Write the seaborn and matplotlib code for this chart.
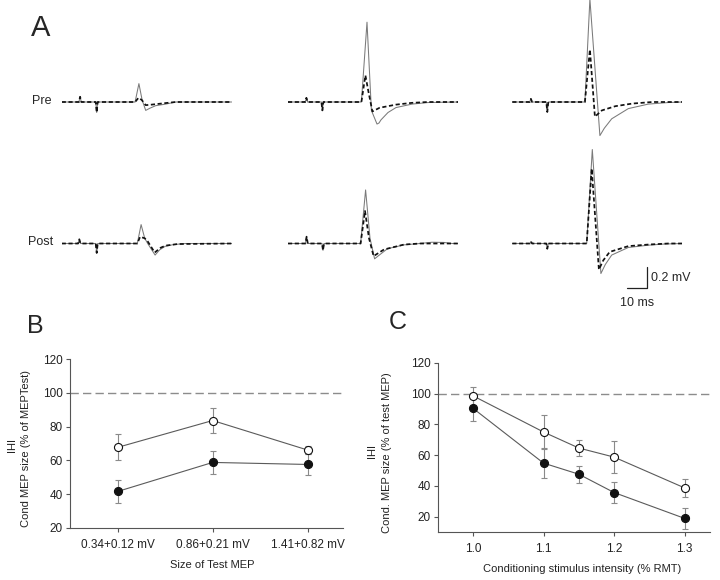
import numpy as np
import pandas as pd
import matplotlib
matplotlib.use('Agg')
import matplotlib.pyplot as plt
import seaborn as sns

sns.set_style('ticks')
plt.rcParams['font.family'] = ['Liberation Sans', 'DejaVu Sans']

# ---- Panel A: MEP traces, (time in ms, amplitude in mV)
# solid grey = test MEP, dashed black = conditioned MEP
pre_small_test = [(0, 0), (8.6, 0), (9.2, 0.05), (9.8, 0), (17.0, 0), (17.5, -0.1), (18.0, 0),
                  (36.7, 0), (38.6, 0.175), (40.2, 0.02), (42.0, -0.08), (44.0, -0.06),
                  (47.0, -0.035), (52.0, -0.02), (57.0, 0), (85, 0)]
pre_small_cond = [(0, 0), (8.6, 0), (9.2, 0.05), (9.8, 0), (17.0, 0), (17.5, -0.1), (18.0, 0),
                  (36.7, 0), (38.4, 0.04), (40.0, 0.02), (42.0, -0.03), (45.0, -0.025),
                  (52.0, -0.01), (57.0, 0), (85, 0)]
pre_mid_test = [(0, 0), (8.6, 0), (9.2, 0.04), (9.8, 0), (16.7, 0), (17.2, -0.08), (17.7, 0),
                (36.7, 0), (39.5, 0.76), (41.7, -0.08), (44.5, -0.21), (45.5, -0.2),
                (46.5, -0.17), (50.0, -0.1), (54.0, -0.053), (62.0, -0.02), (70.0, -0.005), (85, 0)]
pre_mid_cond = [(0, 0), (8.6, 0), (9.2, 0.04), (9.8, 0), (16.7, 0), (17.2, -0.08), (17.7, 0),
                (36.7, 0), (38.7, 0.254), (40.2, 0.1), (42.2, -0.09), (45.8, -0.055),
                (54.0, -0.025), (62.0, -0.008), (70.0, 0), (85, 0)]
pre_large_test = [(0, 0), (8.7, 0), (9.3, 0.03), (9.9, 0), (17.0, 0), (17.5, -0.095), (18.0, 0),
                  (36.3, 0), (38.8, 0.98), (43.8, -0.32), (46.0, -0.25), (49.7, -0.16),
                  (58.0, -0.063), (68.0, -0.02), (78.0, -0.005), (85, 0)]
pre_large_cond = [(0, 0), (8.7, 0), (9.3, 0.03), (9.9, 0), (17.0, 0), (17.5, -0.095), (18.0, 0),
                  (36.3, 0), (38.8, 0.5), (41.3, -0.14), (44.8, -0.08), (51.5, -0.04),
                  (60.0, -0.015), (70.0, 0), (85, 0)]
post_small_test = [(0, 0), (8.2, 0), (8.8, 0.04), (9.4, 0), (17.0, 0), (17.5, -0.09), (18.0, 0),
                   (37.8, 0), (39.7, 0.18), (41.5, 0.05), (43.0, 0.0), (46.7, -0.11), (49.0, -0.06),
                   (51.7, -0.027), (56.0, -0.01), (62.0, 0), (85, 0)]
post_small_cond = [(0, 0), (8.2, 0), (8.8, 0.04), (9.4, 0), (17.0, 0), (17.5, -0.09), (18.0, 0),
                   (37.8, 0), (39.2, 0.064), (41.5, 0.05), (43.0, 0.02), (46.5, -0.086),
                   (49.5, -0.04), (52.0, -0.02), (58.0, -0.005), (85, 0)]
post_mid_test = [(0, 0), (8.7, 0), (9.3, 0.065), (9.9, 0), (17.0, 0), (17.5, -0.065), (18.0, 0),
                 (36.3, 0), (38.8, 0.51), (41.0, 0.05), (43.3, -0.146), (45.0, -0.12),
                 (49.7, -0.05), (58.0, -0.013), (66.0, 0), (72.0, 0.012), (78.0, 0.01),
                 (82.0, 0), (85, 0)]
post_mid_cond = [(0, 0), (8.7, 0), (9.3, 0.065), (9.9, 0), (17.0, 0), (17.5, -0.065), (18.0, 0),
                 (36.3, 0), (38.5, 0.31), (40.5, 0.05), (42.8, -0.12), (48.0, -0.057),
                 (58.0, -0.01), (66.0, 0), (85, 0)]
post_large_test = [(0, 0), (8.7, 0), (9.3, 0.02), (9.9, 0), (17.0, 0), (17.5, -0.05), (18.0, 0),
                   (37.2, 0), (40.0, 0.895), (44.3, -0.286), (46.5, -0.2), (49.7, -0.11),
                   (58.0, -0.038), (68.0, -0.016), (76.0, -0.005), (85, 0)]
post_large_cond = [(0, 0), (8.7, 0), (9.3, 0.02), (9.9, 0), (17.0, 0), (17.5, -0.05), (18.0, 0),
                   (37.2, 0), (39.7, 0.714), (43.3, -0.248), (45.5, -0.16), (48.7, -0.08),
                   (58.0, -0.025), (68.0, -0.01), (78.0, 0), (85, 0)]

# ---- Panel B: IHI vs size of test MEP
size_labels = ['0.34+0.12 mV', '0.86+0.21 mV', '1.41+0.82 mV']
b_open = [67.7, 83.6, 66.1]
b_open_err = [7.7, 7.4, 2.6]
b_filled = [41.6, 58.8, 57.6]
b_filled_err = [6.6, 6.6, 6.0]

# ---- Panel C: IHI vs conditioning stimulus intensity
intensity = [1.0, 1.1, 1.15, 1.2, 1.3]
intensity_ticks = [1.0, 1.1, 1.2, 1.3]
c_open = [98.5, 75.0, 64.6, 58.7, 38.7]
c_open_err = [5.8, 10.9, 5.5, 10.2, 6.0]
c_filled = [90.4, 54.8, 47.6, 35.7, 18.9]
c_filled_err = [8.2, 9.5, 5.5, 7.0, 7.0]

W, H = 720, 580
fig = plt.figure(figsize=(W / 100, H / 100), dpi=100)


def px_axes(left, top, width, height):
    return fig.add_axes([left / W, 1 - (top + height) / H, width / W, height / H])


# traces: 2 px per ms, 105 px per mV
ylo, yhi = -0.45, 0.98
trace_w = 85 * 2
trace_h = (yhi - ylo) * 105
rows = [(102, [(pre_small_test, pre_small_cond), (pre_mid_test, pre_mid_cond),
               (pre_large_test, pre_large_cond)]),
        (243.5, [(post_small_test, post_small_cond), (post_mid_test, post_mid_cond),
                 (post_large_test, post_large_cond)])]
col_x = [61.7, 288, 512.3]

last_ax = None
for base_y, pairs in rows:
    for cx, (test, cond) in zip(col_x, pairs):
        ax = px_axes(cx, base_y - yhi * 105, trace_w, trace_h)
        dt = pd.DataFrame(test, columns=['t', 'mv'])
        dc = pd.DataFrame(cond, columns=['t', 'mv'])
        sns.lineplot(data=dt, x='t', y='mv', ax=ax, color='#7a7a7a', lw=0.75,
                     estimator=None, sort=False)
        sns.lineplot(data=dc, x='t', y='mv', ax=ax, color='#111111', lw=1.25,
                     linestyle=(0, (2.4, 1.5)), estimator=None, sort=False)
        ax.set_xlim(0, 85)
        ax.set_ylim(ylo, yhi)
        ax.axis('off')
        last_ax = ax

# scale bar (10 ms, 0.2 mV)
sb_t, sb_v = 67.2, -0.427
last_ax.plot([sb_t - 10, sb_t, sb_t], [sb_v, sb_v, sb_v + 0.2], color='#222222', lw=0.9,
             clip_on=False)
last_ax.text(sb_t + 2, sb_v + 0.1, '0.2 mV', fontsize=9, va='center', ha='left', clip_on=False)
last_ax.text(sb_t - 5, sb_v - 0.14, '10 ms', fontsize=9, va='center', ha='center', clip_on=False)

fig.text(52 / W, 1 - 101 / H, 'Pre', fontsize=9, ha='right', va='center')
fig.text(53 / W, 1 - 242 / H, 'Post', fontsize=9, ha='right', va='center')

fig.text(31 / W, 1 - 28 / H, 'A', fontsize=21, ha='left', va='center')
fig.text(27 / W, 1 - 326 / H, 'B', fontsize=18, ha='left', va='center')
fig.text(389 / W, 1 - 322 / H, 'C', fontsize=18, ha='left', va='center')


def draw_series(ax, x, y, err, face):
    ax.errorbar(x, y, yerr=err, fmt='none', ecolor='#8a8a8a', elinewidth=0.8,
                capsize=2, capthick=0.8, zorder=2)
    sns.lineplot(x=x, y=y, ax=ax, color='#5a5a5a', lw=0.8, marker='o', markersize=5.8,
                 markerfacecolor=face, markeredgecolor='#111111', markeredgewidth=0.8,
                 estimator=None, sort=False, zorder=3)


def style_axes(ax, xpad):
    sns.despine(ax=ax)
    for s in ['left', 'bottom']:
        ax.spines[s].set_color('#555555')
        ax.spines[s].set_linewidth(0.8)
    ax.tick_params(axis='both', direction='out', length=3, width=0.8, color='#555555',
                   labelsize=8.5, labelcolor='#222222')
    ax.tick_params(axis='y', pad=2)
    ax.tick_params(axis='x', pad=xpad)
    ax.axhline(100, color='#8c8c8c', lw=1.0, dashes=(6, 3), zorder=1)


# ---- Panel B
axb = px_axes(70, 359, 273, 169)
pos = np.arange(len(size_labels))
draw_series(axb, pos, b_open, b_open_err, 'white')
draw_series(axb, pos, b_filled, b_filled_err, '#111111')
axb.set_xlim(-0.5, 2.37)
axb.set_ylim(20, 120)
axb.set_yticks([20, 40, 60, 80, 100, 120])
axb.set_xticks(pos)
axb.set_xticklabels(size_labels)
style_axes(axb, 5)
axb.set_xlabel('Size of Test MEP', fontsize=8, color='#222222')
axb.xaxis.set_label_coords(0.52, -(560 - 528) / 169)
axb.set_ylabel('Cond MEP size (% of MEPTest)', fontsize=8, color='#222222')
axb.yaxis.set_label_coords(-(70 - 31.5) / 273, 0.47)
fig.text(11.7 / W, 1 - 445 / H, 'IHI', fontsize=8, rotation=90, ha='center', va='center',
         color='#222222')

# ---- Panel C
axc = px_axes(437.7, 362.7, 272.3, 169.4)
draw_series(axc, intensity, c_open, c_open_err, 'white')
draw_series(axc, intensity, c_filled, c_filled_err, '#111111')
axc.set_xlim(0.95, 1.336)
axc.set_ylim(10, 120)
axc.set_yticks([20, 40, 60, 80, 100, 120])
axc.set_xticks(intensity_ticks)
axc.set_xticklabels([f'{v:.1f}' for v in intensity_ticks])
style_axes(axc, 5)
axc.set_xlabel('Conditioning stimulus intensity (% RMT)', fontsize=8, color='#222222')
axc.xaxis.set_label_coords(0.53, -(564 - 532) / 169.4)
axc.set_ylabel('Cond. MEP size (% of test MEP)', fontsize=8, color='#222222')
axc.yaxis.set_label_coords(-(437.7 - 392) / 272.3, 0.47)
fig.text(371.7 / W, 1 - 451 / H, 'IHI', fontsize=8, rotation=90, ha='center', va='center',
         color='#222222')

fig.savefig('out.png', dpi=100)
plt.close('all')
